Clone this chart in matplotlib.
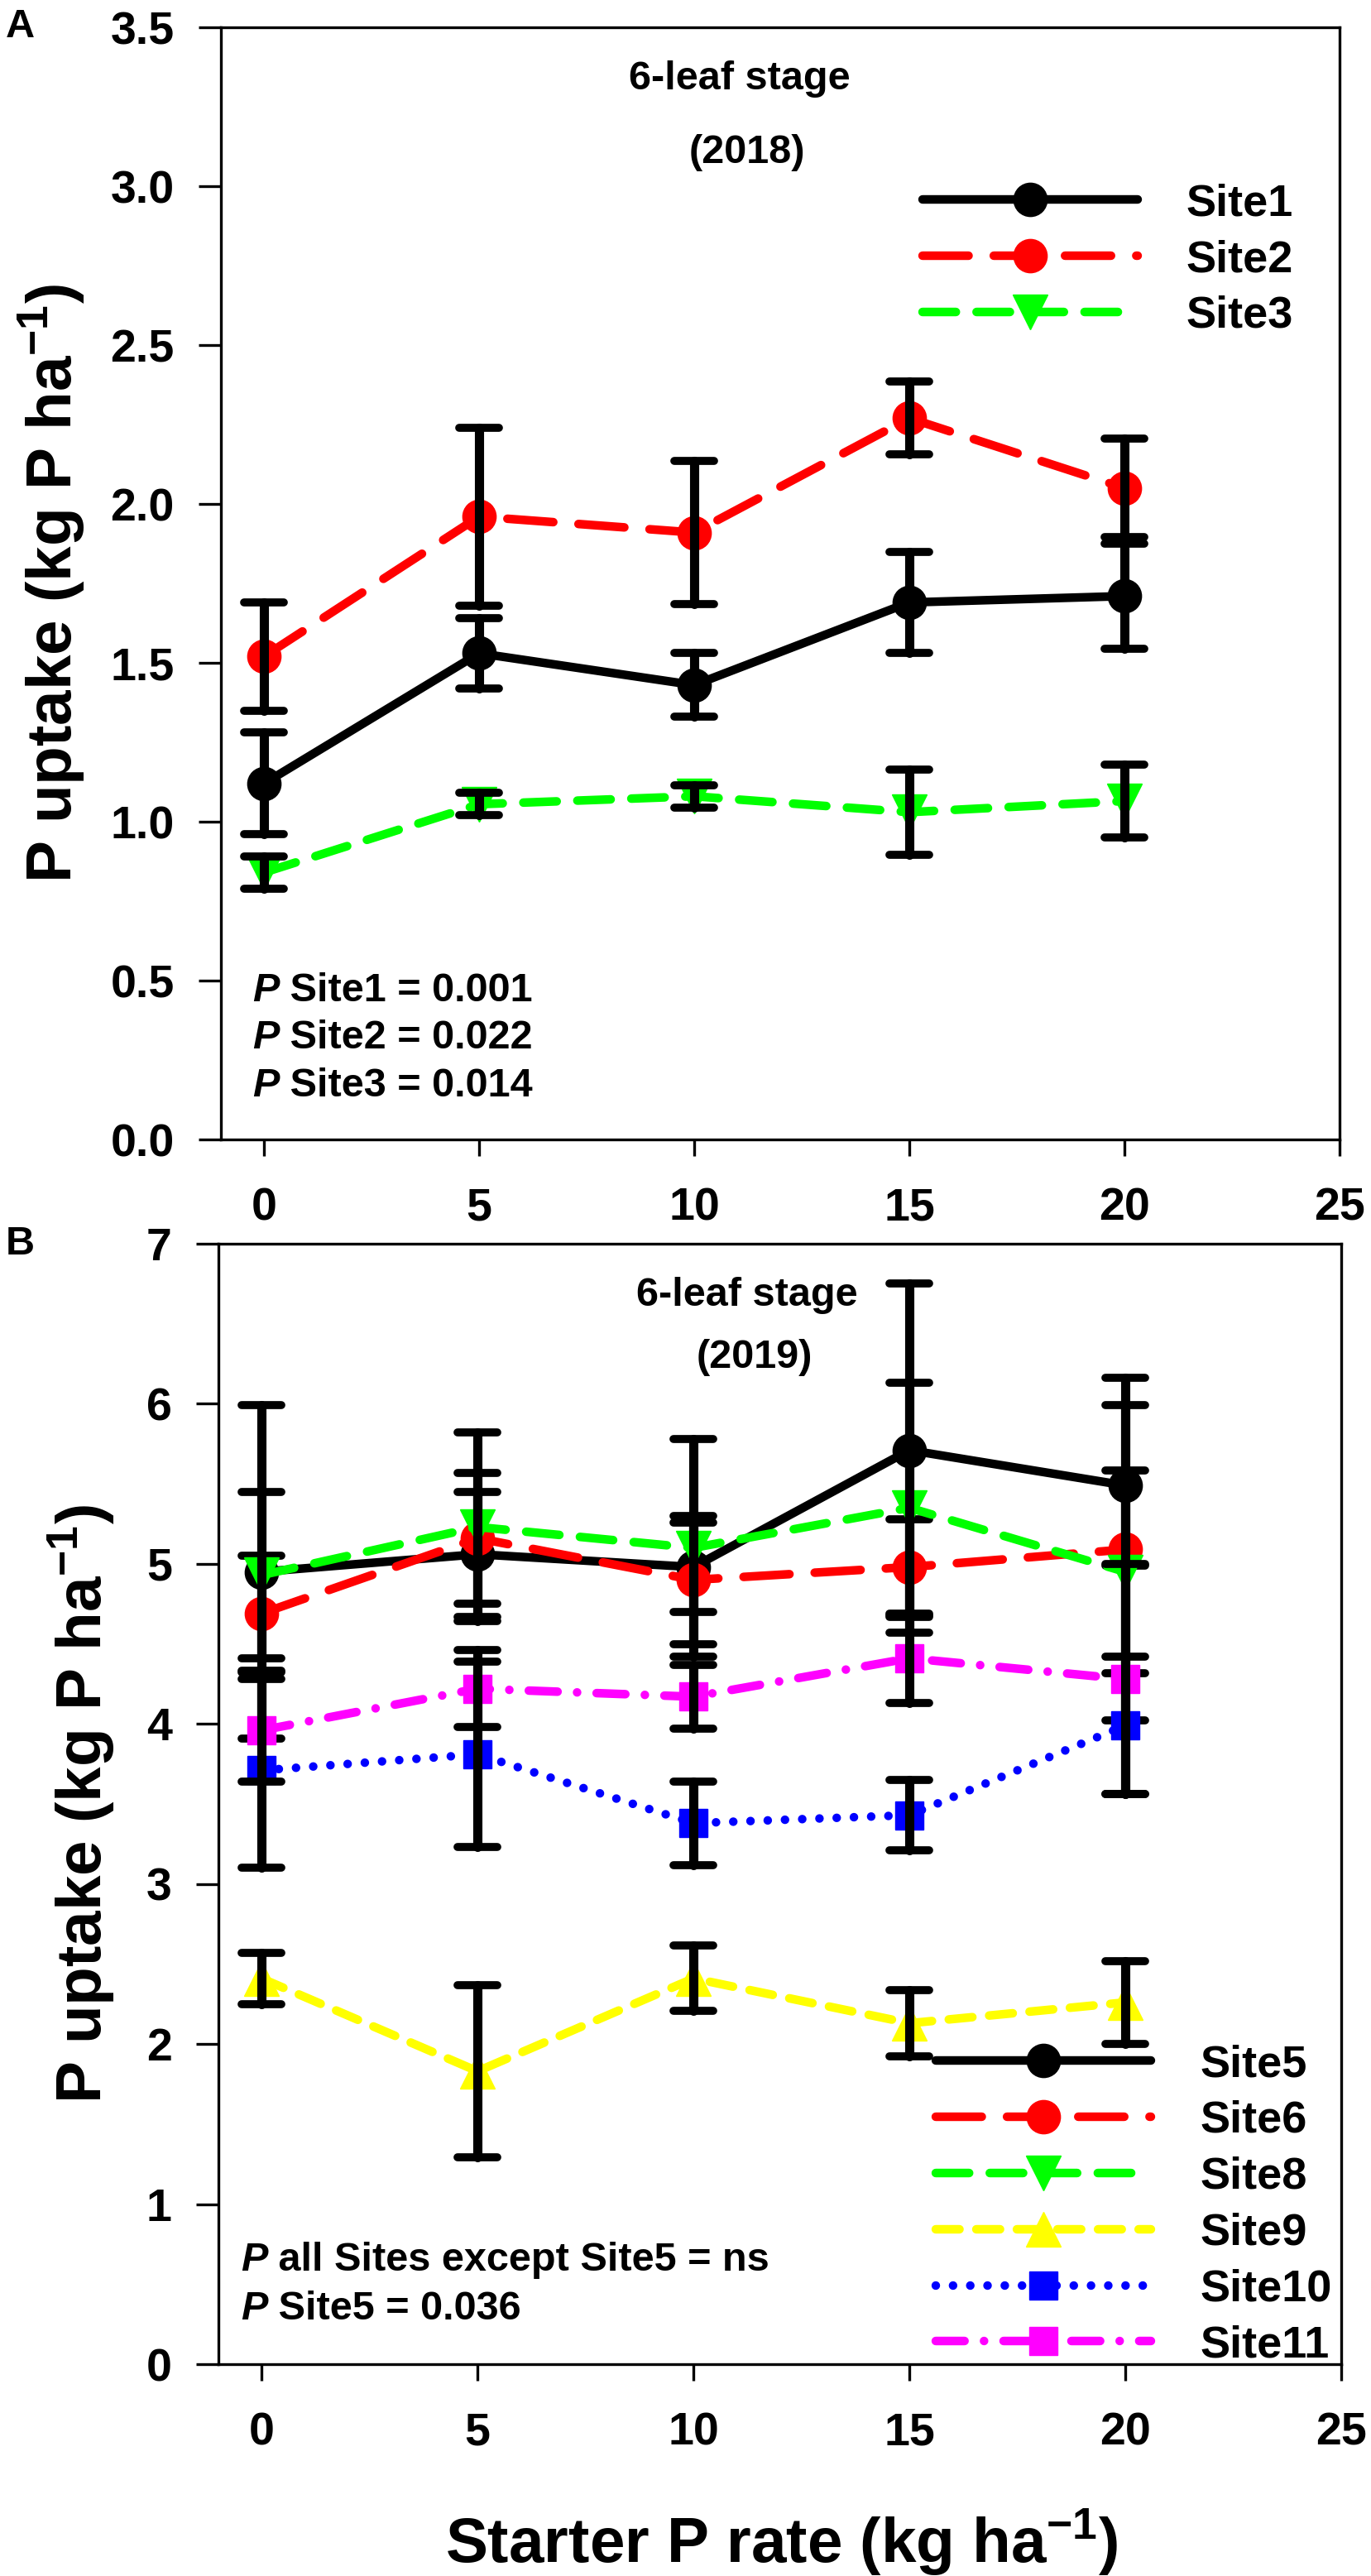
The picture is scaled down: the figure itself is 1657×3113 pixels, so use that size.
import matplotlib
matplotlib.use("Agg")
import matplotlib.pyplot as plt
from matplotlib.markers import MarkerStyle

plt.rcParams['font.family'] = ['Liberation Sans', 'DejaVu Sans']
plt.rcParams['font.weight'] = 'bold'
plt.rcParams['mathtext.default'] = 'regular'
plt.rcParams['lines.scale_dashes'] = False

W, H = 1657, 3113

# ---- data: panel A (2018) ----
rate = [0, 5, 10, 15, 20]
site1 = [1.12, 1.53, 1.43, 1.69, 1.71]
site1_se = [0.16, 0.11, 0.10, 0.16, 0.165]
site2 = [1.52, 1.96, 1.91, 2.27, 2.05]
site2_se = [0.17, 0.28, 0.225, 0.115, 0.155]
site3 = [0.84, 1.055, 1.08, 1.03, 1.065]
site3_se = [0.05, 0.035, 0.035, 0.135, 0.115]
labels_A = ['Site1', 'Site2', 'Site3']

# ---- data: panel B (2019) ----
site5 = [4.95, 5.06, 4.98, 5.71, 5.49]
site5_se = [1.04, 0.39, 0.28, 1.04, 0.50]
site6 = [4.69, 5.16, 4.90, 4.98, 5.09]
site6_se = [0.36, 0.41, 0.40, 0.30, 1.07]
site8 = [4.93, 5.23, 5.10, 5.35, 4.95]
site8_se = [0.52, 0.59, 0.68, 0.78, 0.635]
site9 = [2.41, 1.83, 2.41, 2.13, 2.26]
site9_se = [0.16, 0.54, 0.205, 0.205, 0.26]
site10 = [3.71, 3.81, 3.38, 3.43, 3.99]
site10_se = [0.61, 0.58, 0.26, 0.22, 0.43]
site11 = [3.96, 4.22, 4.17, 4.41, 4.28]
site11_se = [0.32, 0.24, 0.20, 0.28, 0.72]
labels_B = ['Site5', 'Site6', 'Site8', 'Site9', 'Site10', 'Site11']

LW = 7.5
RED_D = (40, 22)
GRN_D = (29, 18)
YEL_D = (20.6, 14.7)
DOT_D = (0.01, 15)
DDOT_D = (25, 17, 0.01, 17)


def draw(ax, y, e, color, marker, ms, dashes, z):
    c = ax.errorbar(rate, y, yerr=e, color=color, marker=marker, ms=ms,
                    mec=color, mfc=color, lw=LW, ecolor='black',
                    elinewidth=8, capsize=17, capthick=7, barsabove=True,
                    zorder=z)
    line = c.lines[0]
    if dashes is not None:
        line.set_dashes(dashes)
    line.set_dash_capstyle('round')
    line.set_solid_capstyle('round')
    for cl in c.lines[1]:
        cl.set_marker(MarkerStyle('_', capstyle='round'))
    for bc in c.lines[2]:
        bc.set_capstyle('round')
    return line


def style_axes(ax):
    ax.set_xlim(-1, 25)
    ax.set_xticks([0, 5, 10, 15, 20, 25])
    for s in ax.spines.values():
        s.set_linewidth(2.4)
    ax.tick_params(axis='x', direction='out', length=14.4, width=2.4,
                   pad=27, labelsize=40)
    ax.tick_params(axis='y', direction='out', length=19.5, width=2.4,
                   pad=21, labelsize=40)


def fxy(x, y):
    return x / W, 1 - y / H


def ptext(ax, x, y, rest):
    t = fig.text(*fxy(x, y), 'P', style='italic', weight='bold', size=35,
                 va='baseline', ha='left')
    ax.annotate(rest, xy=(1, 0), xycoords=t, va='bottom', ha='left',
                size=35, weight='bold', annotation_clip=False)


fig = plt.figure(figsize=(W / 100, H / 100), dpi=100)
axA = fig.add_axes([267 / W, 1 - 1377 / H, 1352 / W, 1344 / H])
axB = fig.add_axes([264 / W, 1 - 2857 / H, 1357 / W, 1354 / H])

# ---- panel A ----
hA = [
    draw(axA, site1, site1_se, 'black', 'o', 29, None, 2.0),
    draw(axA, site2, site2_se, '#FF0000', 'o', 29, RED_D, 2.3),
    draw(axA, site3, site3_se, '#00FF00', 'v', 30, GRN_D, 2.6),
]
style_axes(axA)
axA.set_ylim(0, 3.5)
axA.set_yticks([0, 0.5, 1.0, 1.5, 2.0, 2.5, 3.0, 3.5])
axA.set_yticklabels(['%.1f' % v for v in axA.get_yticks()])
axA.set_ylabel('P uptake (kg P ha$^{-1}$)', fontsize=55, fontweight='bold')
axA.yaxis.set_label_coords(-0.12, 0.5)
axA.legend(handles=hA, labels=labels_A, loc='upper left',
           bbox_to_anchor=(0.627, 0.86), frameon=False, fontsize=39,
           handlelength=4.8, handletextpad=1.09, labelspacing=0.33,
           borderpad=0, borderaxespad=0, numpoints=1)

# ---- panel B ----
hB = [
    draw(axB, site5, site5_se, 'black', 'o', 29, None, 2.0),
    draw(axB, site6, site6_se, '#FF0000', 'o', 29, RED_D, 2.3),
    draw(axB, site8, site8_se, '#00FF00', 'v', 30, GRN_D, 2.6),
    draw(axB, site9, site9_se, '#FFFF00', '^', 30, YEL_D, 2.9),
    draw(axB, site10, site10_se, '#0000FF', 's', 25, DOT_D, 3.2),
    draw(axB, site11, site11_se, '#FF00FF', 's', 25, DDOT_D, 3.5),
]
style_axes(axB)
axB.set_ylim(0, 7)
axB.set_yticks(range(0, 8))
axB.set_ylabel('P uptake (kg P ha$^{-1}$)', fontsize=55, fontweight='bold')
axB.yaxis.set_label_coords(-0.0906, 0.5)
axB.legend(handles=hB, labels=labels_B, loc='upper left',
           bbox_to_anchor=(0.639, 0.2858), frameon=False, fontsize=39,
           handlelength=4.8, handletextpad=1.09, labelspacing=0.33,
           borderpad=0, borderaxespad=0, numpoints=1)

# ---- text ----
fig.text(*fxy(894, 108), '6-leaf stage', ha='center', va='baseline', size=35)
fig.text(*fxy(903, 197), '(2018)', ha='center', va='baseline', size=35)
fig.text(*fxy(903, 1578), '6-leaf stage', ha='center', va='baseline', size=35)
fig.text(*fxy(912, 1653), '(2019)', ha='center', va='baseline', size=35)

ptext(axA, 305, 1210, ' Site1 = 0.001')
ptext(axA, 305, 1267, ' Site2 = 0.022')
ptext(axA, 305, 1325, ' Site3 = 0.014')
ptext(axB, 291, 2744, ' all Sites except Site5 = ns')
ptext(axB, 291, 2803, ' Site5 = 0.036')

fig.text(*fxy(7, 45), 'A', ha='left', va='baseline', size=35)
fig.text(*fxy(7, 1516), 'B', ha='left', va='baseline', size=35)

fig.text(*fxy(945, 3097), 'Starter P rate (kg ha$^{-1}$)', ha='center',
         va='baseline', size=55)

fig.savefig('out.png', dpi=100)
